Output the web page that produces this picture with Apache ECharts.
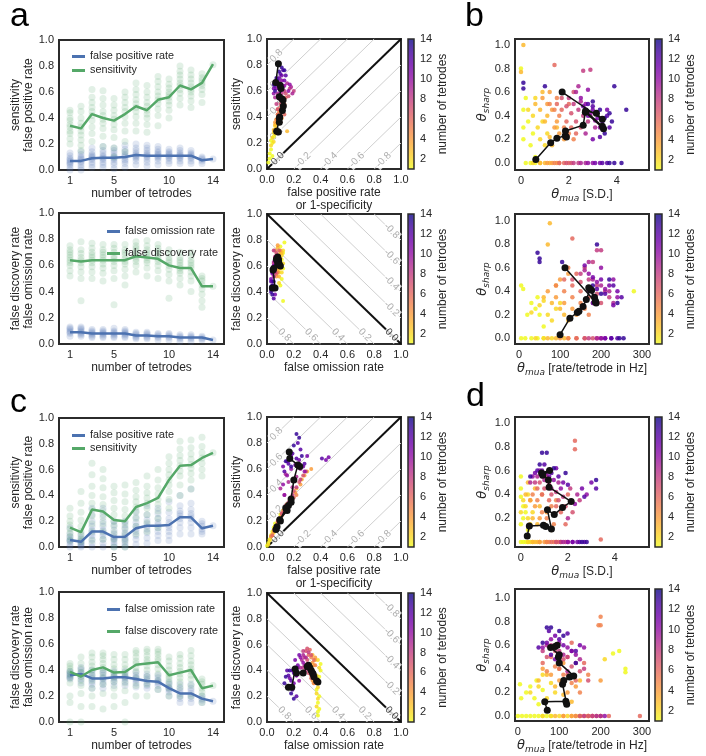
<!DOCTYPE html>
<html><head><meta charset="utf-8">
<script src="https://cdn.jsdelivr.net/npm/echarts@6/dist/echarts.min.js"></script>
<style>html,body{margin:0;padding:0;background:#fff}#c{width:706px;height:756px}</style>
</head><body><div id="c"></div>
<script>
// ---------------- DATA ----------------
const TETRODES = [1,2,3,4,5,6,7,8,9,10,11,12,13,14];
const N_TICKS = [1,5,10,14];
const UNIT_TICKS = [0,0.2,0.4,0.6,0.8,1.0];
const SD_TICKS = [0,2,4];
const HZ_TICKS = [0,100,200,300];
const CBAR_TICKS = [2,4,6,8,10,12,14];
const CONTOUR_LEVELS = [-0.8,-0.6,-0.4,-0.2,0.0,0.2,0.4,0.6,0.8];

// panel a, top-left
const A_SENS_MEAN = [0.34,0.32,0.43,0.40,0.38,0.43,0.49,0.46,0.54,0.56,0.65,0.62,0.67,0.815];
const A_FPR_MEAN  = [0.07,0.07,0.09,0.095,0.095,0.10,0.115,0.11,0.11,0.11,0.11,0.11,0.075,0.085];
const A_SENS_PTS = [
 [0.20,0.24,0.28,0.30,0.33,0.35,0.38,0.40,0.44,0.46],
 [0.15,0.19,0.23,0.27,0.30,0.33,0.36,0.40,0.45,0.49],
 [0.22,0.28,0.33,0.38,0.42,0.45,0.48,0.52,0.56,0.62],
 [0.18,0.26,0.32,0.36,0.39,0.42,0.45,0.50,0.55,0.61],
 [0.10,0.17,0.25,0.31,0.35,0.39,0.42,0.46,0.50,0.55],
 [0.14,0.22,0.30,0.36,0.41,0.45,0.48,0.52,0.56,0.60],
 [0.30,0.36,0.41,0.45,0.48,0.51,0.54,0.58,0.62,0.67],
 [0.29,0.35,0.40,0.43,0.46,0.49,0.52,0.56,0.60,0.65],
 [0.34,0.42,0.47,0.51,0.54,0.57,0.60,0.64,0.68,0.72],
 [0.40,0.46,0.50,0.53,0.56,0.58,0.60,0.63,0.66,0.70],
 [0.50,0.55,0.59,0.62,0.65,0.67,0.70,0.73,0.76,0.80],
 [0.48,0.53,0.57,0.60,0.62,0.64,0.67,0.70,0.73,0.77],
 [0.52,0.58,0.62,0.65,0.67,0.69,0.71,0.74],
 [0.81]];
const A_FPR_PTS = [
 [0.00,0.02,0.04,0.05,0.06,0.07,0.08,0.09,0.11,0.13],
 [0.00,0.02,0.04,0.06,0.07,0.08,0.09,0.10,0.12,0.14],
 [0.02,0.04,0.06,0.08,0.09,0.10,0.11,0.12,0.14,0.17],
 [0.02,0.04,0.06,0.08,0.09,0.10,0.11,0.13,0.15,0.18],
 [0.01,0.04,0.06,0.08,0.09,0.10,0.11,0.13,0.15,0.17],
 [0.02,0.05,0.07,0.08,0.10,0.11,0.12,0.14,0.16,0.19],
 [0.04,0.07,0.09,0.10,0.11,0.12,0.13,0.15,0.17,0.20],
 [0.03,0.06,0.08,0.10,0.11,0.12,0.13,0.15,0.17,0.19],
 [0.04,0.07,0.09,0.10,0.11,0.12,0.13,0.14,0.16,0.18],
 [0.05,0.07,0.09,0.10,0.11,0.12,0.13,0.14,0.16],
 [0.05,0.07,0.09,0.10,0.11,0.12,0.13,0.15,0.17],
 [0.05,0.07,0.09,0.10,0.11,0.12,0.13,0.15],
 [0.05,0.07,0.08,0.09,0.10],
 [0.085]];

// panel a, bottom-left
const A_FDR_MEAN = [0.64,0.63,0.64,0.64,0.64,0.64,0.67,0.66,0.65,0.60,0.58,0.58,0.44,0.44];
const A_FOR_MEAN = [0.09,0.09,0.08,0.08,0.08,0.08,0.065,0.065,0.06,0.06,0.05,0.05,0.05,0.03];
const A_FDR_PTS = [
 [0.52,0.56,0.60,0.62,0.64,0.66,0.68,0.70,0.72,0.75],
 [0.33,0.50,0.55,0.59,0.62,0.64,0.66,0.69,0.72,0.78],
 [0.50,0.55,0.59,0.62,0.64,0.66,0.68,0.70,0.73,0.77],
 [0.48,0.54,0.58,0.61,0.64,0.66,0.68,0.70,0.72,0.76],
 [0.30,0.50,0.56,0.60,0.63,0.65,0.67,0.70,0.73,0.76],
 [0.45,0.52,0.57,0.61,0.63,0.65,0.68,0.70,0.72,0.76],
 [0.55,0.60,0.63,0.65,0.67,0.69,0.71,0.73,0.75,0.78],
 [0.52,0.58,0.62,0.64,0.66,0.68,0.70,0.72,0.75,0.79],
 [0.50,0.56,0.60,0.63,0.65,0.67,0.69,0.71,0.73,0.76],
 [0.35,0.48,0.53,0.57,0.60,0.62,0.64,0.66,0.69,0.72],
 [0.45,0.50,0.54,0.56,0.58,0.60,0.62,0.64,0.66,0.70],
 [0.40,0.48,0.52,0.55,0.58,0.60,0.62,0.64,0.67,0.70],
 [0.28,0.33,0.38,0.42,0.45,0.48,0.50,0.52],
 [0.44]];
const A_FOR_PTS = [
 [0.06,0.08,0.09,0.10,0.11,0.12,0.13],
 [0.06,0.07,0.08,0.09,0.10,0.11,0.12,0.13],
 [0.05,0.06,0.07,0.08,0.09,0.10,0.11],
 [0.05,0.06,0.07,0.08,0.09,0.10,0.11],
 [0.05,0.06,0.07,0.08,0.09,0.10,0.12],
 [0.05,0.06,0.07,0.08,0.09,0.10,0.11],
 [0.04,0.05,0.06,0.07,0.08,0.09],
 [0.04,0.05,0.06,0.07,0.08,0.09],
 [0.03,0.05,0.06,0.07,0.08],
 [0.03,0.05,0.06,0.07,0.08],
 [0.02,0.04,0.05,0.06,0.07],
 [0.02,0.04,0.05,0.06,0.07],
 [0.03,0.04,0.05,0.06],
 [0.03]];

// panel c, top-left
const C_SENS_MEAN = [0.15,0.115,0.29,0.275,0.21,0.20,0.31,0.34,0.38,0.52,0.63,0.635,0.69,0.73];
const C_FPR_MEAN  = [0.055,0.04,0.12,0.12,0.077,0.08,0.145,0.165,0.165,0.17,0.23,0.23,0.145,0.165];
const C_SENS_PTS = [
 [0.05,0.08,0.11,0.14,0.17,0.20,0.24,0.30],
 [0.04,0.06,0.09,0.12,0.16,0.21,0.27,0.34,0.43],
 [0.05,0.12,0.18,0.24,0.29,0.34,0.40,0.47,0.56,0.65],
 [0.06,0.12,0.18,0.23,0.28,0.33,0.39,0.46,0.53,0.60],
 [0.00,0.06,0.11,0.16,0.20,0.25,0.30,0.36,0.42,0.47],
 [0.00,0.05,0.10,0.15,0.19,0.24,0.29,0.35,0.41,0.48],
 [0.10,0.16,0.22,0.27,0.31,0.35,0.39,0.44,0.50],
 [0.12,0.19,0.25,0.30,0.34,0.38,0.42,0.47,0.55],
 [0.15,0.22,0.28,0.33,0.37,0.41,0.46,0.52,0.60],
 [0.30,0.37,0.43,0.48,0.52,0.56,0.60,0.65,0.70],
 [0.40,0.48,0.55,0.59,0.63,0.67,0.71,0.76,0.82],
 [0.45,0.52,0.57,0.61,0.64,0.68,0.72,0.77,0.83],
 [0.55,0.60,0.65,0.69,0.73,0.78,0.85],
 [0.73]];
const C_FPR_PTS = [
 [0.00,0.02,0.04,0.05,0.06,0.08,0.10,0.15],
 [0.00,0.01,0.02,0.03,0.04,0.05,0.07,0.10],
 [0.00,0.03,0.06,0.09,0.11,0.13,0.16,0.20,0.25,0.30],
 [0.00,0.03,0.06,0.09,0.11,0.13,0.16,0.20,0.25,0.30],
 [0.00,0.02,0.04,0.06,0.07,0.08,0.10,0.13,0.17,0.20],
 [0.00,0.02,0.04,0.06,0.07,0.09,0.11,0.14,0.17,0.20],
 [0.02,0.06,0.09,0.12,0.14,0.16,0.19,0.23,0.28],
 [0.03,0.07,0.11,0.14,0.16,0.18,0.21,0.25,0.32],
 [0.05,0.09,0.12,0.15,0.17,0.19,0.22,0.26,0.30],
 [0.05,0.09,0.12,0.15,0.17,0.19,0.22,0.27,0.35],
 [0.10,0.15,0.19,0.22,0.24,0.26,0.28,0.32,0.40],
 [0.10,0.15,0.19,0.22,0.24,0.26,0.29,0.34,0.45],
 [0.10,0.12,0.14,0.16,0.18,0.20],
 [0.165]];

// panel c, bottom-left
const C_FDR_MEAN = [0.385,0.35,0.40,0.42,0.38,0.385,0.44,0.45,0.46,0.36,0.38,0.40,0.26,0.28];
const C_FOR_MEAN = [0.36,0.37,0.335,0.335,0.345,0.345,0.33,0.315,0.31,0.26,0.22,0.22,0.18,0.16];
const C_FDR_PTS = [
 [0.00,0.15,0.20,0.30,0.34,0.37,0.39,0.41,0.43,0.45],
 [0.00,0.12,0.22,0.28,0.32,0.35,0.38,0.41,0.45,0.50],
 [0.12,0.20,0.26,0.32,0.36,0.40,0.43,0.46,0.50,0.53],
 [0.10,0.22,0.29,0.34,0.38,0.42,0.45,0.48,0.51,0.53],
 [0.12,0.20,0.26,0.31,0.35,0.38,0.41,0.44,0.48,0.52],
 [0.00,0.15,0.24,0.30,0.35,0.38,0.41,0.44,0.48,0.52],
 [0.20,0.28,0.34,0.39,0.42,0.45,0.47,0.50,0.53,0.55],
 [0.20,0.29,0.35,0.40,0.43,0.46,0.48,0.51,0.54,0.56],
 [0.25,0.32,0.37,0.41,0.44,0.47,0.49,0.52,0.54,0.56],
 [0.20,0.26,0.30,0.33,0.35,0.37,0.40,0.43,0.47,0.50],
 [0.20,0.27,0.31,0.34,0.37,0.39,0.42,0.45,0.49,0.52],
 [0.20,0.28,0.33,0.36,0.39,0.41,0.44,0.47,0.51,0.55],
 [0.15,0.20,0.23,0.26,0.29,0.31,0.33],
 [0.28]];
const C_FOR_PTS = [
 [0.33,0.34,0.35,0.36,0.37,0.38,0.39],
 [0.30,0.33,0.35,0.37,0.38,0.40,0.42],
 [0.26,0.29,0.31,0.33,0.34,0.36,0.38,0.40],
 [0.26,0.29,0.31,0.33,0.34,0.36,0.38,0.40],
 [0.28,0.31,0.33,0.34,0.35,0.37,0.39],
 [0.28,0.31,0.33,0.34,0.35,0.37,0.39],
 [0.27,0.30,0.32,0.33,0.34,0.36,0.38],
 [0.26,0.28,0.30,0.32,0.33,0.35,0.37],
 [0.25,0.28,0.30,0.31,0.32,0.34,0.36],
 [0.20,0.23,0.25,0.26,0.27,0.29,0.31],
 [0.15,0.18,0.20,0.22,0.24,0.26,0.29],
 [0.15,0.18,0.20,0.22,0.24,0.26,0.29],
 [0.15,0.17,0.18,0.20],
 [0.16]];

// middle panels: per tetrode count, points [x, y]
const A_ROC_PTS = [
 [[0.01,0.05],[0.02,0.08],[0.02,0.12],[0.03,0.15],[0.04,0.20],[0.05,0.25],[0.03,0.22],[0.06,0.30],[0.04,0.10]],
 [[0.03,0.18],[0.04,0.24],[0.05,0.28],[0.06,0.33],[0.07,0.35],[0.05,0.21],[0.08,0.38],[0.06,0.27]],
 [[0.05,0.30],[0.06,0.34],[0.07,0.38],[0.08,0.42],[0.09,0.45],[0.10,0.40],[0.07,0.31],[0.11,0.48],[0.15,0.29]],
 [[0.06,0.36],[0.08,0.40],[0.10,0.44],[0.12,0.47],[0.09,0.35],[0.11,0.39]],
 [[0.07,0.38],[0.09,0.43],[0.11,0.48],[0.13,0.50],[0.10,0.36],[0.08,0.46]],
 [[0.08,0.42],[0.10,0.47],[0.12,0.52],[0.14,0.55],[0.11,0.44],[0.13,0.42]],
 [[0.08,0.46],[0.10,0.50],[0.12,0.54],[0.14,0.58],[0.16,0.56],[0.11,0.52]],
 [[0.07,0.50],[0.09,0.54],[0.11,0.58],[0.13,0.60],[0.17,0.62],[0.20,0.60]],
 [[0.06,0.55],[0.08,0.58],[0.10,0.62],[0.12,0.64],[0.15,0.66],[0.18,0.63],[0.19,0.58]],
 [[0.05,0.58],[0.07,0.62],[0.09,0.66],[0.11,0.68],[0.13,0.64],[0.16,0.60],[0.17,0.65]],
 [[0.05,0.62],[0.07,0.66],[0.09,0.70],[0.11,0.72],[0.13,0.68],[0.10,0.60]],
 [[0.06,0.64],[0.08,0.68],[0.10,0.73],[0.12,0.76],[0.14,0.72],[0.09,0.62]],
 [[0.05,0.65],[0.07,0.70],[0.09,0.75],[0.11,0.78],[0.13,0.76],[0.06,0.60]],
 [[0.08,0.81]]];
const A_ROC_MEAN = [[0.072,0.29],[0.085,0.285],[0.095,0.40],[0.092,0.36],[0.092,0.39],[0.115,0.45],[0.122,0.485],[0.12,0.53],[0.11,0.54],[0.092,0.556],[0.105,0.62],[0.098,0.645],[0.065,0.665],[0.085,0.81]];

const A_PR_PTS = [
 [[0.09,0.55],[0.10,0.60],[0.11,0.65],[0.12,0.70],[0.10,0.75],[0.09,0.68],[0.12,0.58],[0.11,0.50],[0.10,0.45],[0.12,0.33],[0.13,0.78]],
 [[0.09,0.58],[0.10,0.63],[0.11,0.68],[0.12,0.72],[0.08,0.66],[0.11,0.55],[0.10,0.70],[0.09,0.47],[0.12,0.62]],
 [[0.08,0.56],[0.09,0.62],[0.10,0.66],[0.11,0.70],[0.08,0.74],[0.09,0.52],[0.10,0.58]],
 [[0.07,0.58],[0.08,0.62],[0.09,0.67],[0.10,0.72],[0.08,0.76],[0.07,0.52]],
 [[0.07,0.60],[0.08,0.64],[0.09,0.68],[0.06,0.72],[0.08,0.55]],
 [[0.06,0.58],[0.07,0.63],[0.08,0.68],[0.09,0.72],[0.07,0.54]],
 [[0.05,0.62],[0.06,0.67],[0.07,0.70],[0.08,0.60],[0.06,0.56]],
 [[0.05,0.60],[0.06,0.65],[0.07,0.68],[0.05,0.72],[0.06,0.55]],
 [[0.04,0.58],[0.05,0.63],[0.06,0.67],[0.05,0.52]],
 [[0.04,0.54],[0.05,0.60],[0.06,0.64],[0.04,0.48],[0.05,0.42]],
 [[0.03,0.50],[0.04,0.56],[0.05,0.60],[0.04,0.45],[0.06,0.38]],
 [[0.03,0.48],[0.04,0.55],[0.05,0.58],[0.03,0.42],[0.05,0.35]],
 [[0.03,0.40],[0.04,0.45],[0.05,0.48],[0.04,0.38]],
 [[0.03,0.44]]];
const A_PR_MEAN = [[0.09,0.62],[0.10,0.60],[0.085,0.645],[0.08,0.64],[0.085,0.65],[0.08,0.63],[0.08,0.67],[0.075,0.66],[0.07,0.65],[0.08,0.61],[0.045,0.57],[0.05,0.58],[0.06,0.43],[0.04,0.43]];

const C_ROC_PTS = [
 [[0.00,0.01],[0.01,0.03],[0.02,0.06],[0.03,0.09],[0.04,0.12],[0.05,0.15],[0.06,0.18],[0.08,0.20],[0.10,0.25]],
 [[0.01,0.02],[0.02,0.05],[0.03,0.08],[0.05,0.11],[0.06,0.14],[0.08,0.17],[0.10,0.22],[0.12,0.26]],
 [[0.04,0.10],[0.06,0.16],[0.09,0.22],[0.12,0.28],[0.15,0.33],[0.18,0.38],[0.22,0.45],[0.26,0.52],[0.30,0.58]],
 [[0.05,0.12],[0.08,0.18],[0.11,0.25],[0.14,0.30],[0.17,0.36],[0.21,0.42],[0.25,0.48],[0.28,0.55],[0.33,0.60]],
 [[0.03,0.08],[0.05,0.13],[0.08,0.19],[0.11,0.24],[0.14,0.30],[0.18,0.35],[0.22,0.40]],
 [[0.04,0.09],[0.06,0.14],[0.09,0.20],[0.12,0.26],[0.16,0.32],[0.20,0.38]],
 [[0.08,0.20],[0.11,0.26],[0.14,0.32],[0.17,0.37],[0.20,0.43],[0.24,0.50],[0.27,0.55]],
 [[0.09,0.22],[0.13,0.28],[0.16,0.34],[0.19,0.40],[0.22,0.46],[0.25,0.52],[0.29,0.58]],
 [[0.10,0.45],[0.13,0.40],[0.16,0.50],[0.19,0.46],[0.22,0.54],[0.25,0.60],[0.14,0.56]],
 [[0.12,0.48],[0.15,0.55],[0.18,0.60],[0.21,0.52],[0.24,0.64],[0.28,0.58],[0.13,0.40]],
 [[0.12,0.62],[0.15,0.66],[0.18,0.70],[0.21,0.63],[0.24,0.67],[0.27,0.62],[0.30,0.70],[0.44,0.67],[0.46,0.69]],
 [[0.13,0.58],[0.16,0.64],[0.19,0.72],[0.22,0.68],[0.25,0.75],[0.28,0.64],[0.23,0.80],[0.41,0.68]],
 [[0.14,0.66],[0.17,0.72],[0.20,0.78],[0.24,0.84],[0.22,0.87],[0.18,0.62],[0.26,0.70]],
 [[0.166,0.73]]];
const C_ROC_MEAN = [[0.075,0.155],[0.067,0.135],[0.14,0.30],[0.15,0.28],[0.095,0.21],[0.10,0.20],[0.16,0.32],[0.18,0.345],[0.18,0.37],[0.20,0.515],[0.23,0.63],[0.245,0.62],[0.17,0.68],[0.166,0.73]];

const C_PR_PTS = [
 [[0.38,0.05],[0.39,0.10],[0.38,0.15],[0.39,0.20],[0.37,0.25],[0.38,0.30],[0.39,0.35],[0.40,0.40],[0.40,0.45],[0.38,0.08]],
 [[0.37,0.12],[0.38,0.18],[0.37,0.22],[0.38,0.27],[0.36,0.32],[0.37,0.36],[0.39,0.42],[0.38,0.48]],
 [[0.35,0.30],[0.36,0.35],[0.34,0.40],[0.35,0.44],[0.36,0.48],[0.34,0.52]],
 [[0.34,0.32],[0.35,0.38],[0.33,0.42],[0.34,0.46],[0.36,0.50]],
 [[0.35,0.30],[0.33,0.36],[0.34,0.40],[0.36,0.44],[0.33,0.50]],
 [[0.33,0.34],[0.34,0.40],[0.32,0.44],[0.35,0.48],[0.31,0.52],[0.32,0.56]],
 [[0.31,0.38],[0.32,0.44],[0.30,0.48],[0.33,0.52],[0.29,0.55],[0.30,0.57]],
 [[0.29,0.40],[0.30,0.45],[0.28,0.50],[0.31,0.54],[0.27,0.42],[0.27,0.55]],
 [[0.27,0.38],[0.28,0.44],[0.26,0.48],[0.29,0.50],[0.25,0.42],[0.27,0.52]],
 [[0.24,0.32],[0.26,0.38],[0.23,0.42],[0.27,0.46],[0.22,0.36],[0.25,0.50]],
 [[0.20,0.30],[0.22,0.36],[0.19,0.40],[0.23,0.44],[0.17,0.34],[0.21,0.48],[0.24,0.52]],
 [[0.18,0.32],[0.20,0.38],[0.16,0.36],[0.21,0.42],[0.15,0.40],[0.19,0.25],[0.22,0.20]],
 [[0.14,0.35],[0.16,0.28],[0.18,0.22],[0.13,0.30],[0.20,0.18],[0.17,0.40]],
 [[0.16,0.27]]];
const C_PR_MEAN = [[0.38,0.31],[0.37,0.32],[0.35,0.35],[0.345,0.37],[0.34,0.38],[0.33,0.40],[0.32,0.42],[0.31,0.44],[0.30,0.43],[0.27,0.38],[0.22,0.38],[0.21,0.41],[0.185,0.27],[0.16,0.27]];

// right panels (b, d): per tetrode count, points [theta_mua, theta_sharp]
const B_SD_PTS = [
 [[0.2,0],[0.4,0],[0.6,0],[0.1,0.45],[0.1,0.30],[0.1,0.20],[0.3,0.35],[0.4,0.15],[0.5,0.25],[0.6,0.05],[0.2,0.55],[0.0,0.8]],
 [[0.5,0],[0.8,0],[0.3,0.45],[0.5,0.40],[0.7,0.30],[0.8,0.20],[1.0,0.15],[0.9,0.35],[0.6,0.55],[1.1,0.25]],
 [[0.8,0],[1.0,0],[1.2,0],[0.6,0.50],[0.8,0.45],[1.0,0.35],[1.2,0.22],[1.3,0.15],[1.1,0.40],[0.9,0.60],[1.5,0.30],[0.1,1.0],[0.0,0.77]],
 [[1.1,0],[1.3,0],[1.5,0],[0.9,0.55],[1.1,0.50],[1.3,0.45],[1.5,0.35],[1.6,0.25],[1.8,0.20],[1.2,0.60],[1.4,0.30]],
 [[1.4,0],[1.6,0],[1.2,0.50],[1.4,0.45],[1.6,0.40],[1.8,0.30],[2.0,0.25],[2.2,0.20],[1.5,0.55]],
 [[1.6,0],[1.8,0],[2.0,0],[1.5,0.50],[1.7,0.45],[1.9,0.35],[2.1,0.30],[2.3,0.25],[2.0,0.50],[1.4,0.83]],
 [[1.9,0],[2.1,0],[1.7,0.55],[1.9,0.48],[2.1,0.42],[2.3,0.35],[2.5,0.30],[2.2,0.60]],
 [[2.2,0],[2.4,0],[2.0,0.55],[2.2,0.50],[2.4,0.45],[2.6,0.40],[2.8,0.35],[2.6,0.78],[2.9,0.79]],
 [[2.5,0],[2.7,0],[2.3,0.60],[2.5,0.52],[2.7,0.45],[2.9,0.40],[3.1,0.30],[2.4,0.65],[2.7,0.25]],
 [[2.8,0],[3.0,0],[2.5,0.55],[2.7,0.50],[2.9,0.42],[3.1,0.36],[3.3,0.30],[2.8,0.62]],
 [[3.1,0],[3.3,0],[2.6,0.48],[2.8,0.40],[3.0,0.45],[3.2,0.38],[3.4,0.32],[3.0,0.20],[3.6,0.45]],
 [[3.4,0],[3.6,0],[2.8,0.50],[3.0,0.48],[3.2,0.42],[3.4,0.35],[3.6,0.40],[3.3,0.22],[3.7,0.30]],
 [[3.7,0],[3.9,0],[4.2,0],[3.0,0.52],[3.3,0.45],[3.5,0.38],[3.7,0.42],[3.8,0.35],[3.9,0.65],[4.4,0.45],[3.5,0.25],[0.1,0.68],[0.1,0.63],[1.0,0.65]],
 []];
const B_SD_MEAN = [[0.62,0.03],[1.24,0.17],[1.5,0.21],[1.85,0.23],[1.9,0.22],[1.86,0.27],[2.6,0.32],[2.69,0.43],[3.45,0.29],[3.4,0.31],[2.7,0.44],[3.15,0.42],[3.4,0.37],[1.72,0.60]];

const B_HZ_PTS = [
 [[5,0],[15,0],[30,0],[45,0],[60,0],[5,0.45],[10,0.42],[20,0.20],[30,0.30],[40,0.25],[50,0.20],[60,0.10],[45,0.35],[280,0.40]],
 [[40,0],[60,0],[80,0],[30,0.22],[50,0.28],[70,0.20],[80,0.15],[90,0.25],[60,0.32],[100,0.30]],
 [[70,0],[90,0],[110,0],[60,0.35],[80,0.30],[100,0.25],[110,0.20],[120,0.15],[90,0.45],[75,0.98],[70,0.80]],
 [[100,0],[120,0],[70,0.40],[90,0.35],[110,0.30],[130,0.25],[140,0.20],[100,0.50],[120,0.55]],
 [[120,0],[140,0],[90,0.45],[110,0.40],[130,0.35],[150,0.30],[160,0.25],[120,0.60],[170,0.20]],
 [[140,0],[160,0],[110,0.50],[130,0.45],[150,0.40],[170,0.35],[180,0.30],[140,0.55],[130,0.85]],
 [[160,0],[180,0],[130,0.50],[150,0.48],[170,0.42],[190,0.38],[200,0.30],[160,0.60]],
 [[170,0],[190,0],[150,0.55],[170,0.50],[190,0.45],[210,0.40],[220,0.35],[180,0.65],[190,0.75],[200,0.75]],
 [[190,0],[200,0],[160,0.58],[180,0.50],[200,0.45],[220,0.40],[230,0.30],[170,0.65]],
 [[200,0],[210,0],[170,0.55],[190,0.48],[210,0.42],[230,0.50],[240,0.35],[200,0.60]],
 [[210,0],[225,0],[180,0.52],[200,0.50],[220,0.45],[240,0.40],[160,0.62],[230,0.28]],
 [[225,0],[240,0],[170,0.40],[190,0.42],[210,0.38],[230,0.45],[250,0.35],[180,0.30]],
 [[245,0],[255,0],[180,0.45],[200,0.38],[220,0.50],[240,0.30],[45,0.73],[50,0.68],[50,0.65],[190,0.80],[105,0.65]],
 []];
const B_HZ_MEAN = [[100,0.03],[124,0.17],[142,0.22],[146,0.23],[156,0.27],[164,0.33],[173,0.42],[188,0.30],[186,0.32],[177,0.41],[170,0.43],[184,0.35],[186,0.31],[112,0.60]];

const D_SD_PTS = [
 [[0.0,0],[0.1,0],[0.2,0],[0.3,0],[0.0,0.55],[0.0,0.45],[0.1,0.30],[0.1,0.20],[0.0,0.15],[0.2,0.25],[0.3,0.10],[0.0,0.38]],
 [[0.3,0],[0.4,0],[0.5,0],[0.1,0.35],[0.2,0.30],[0.3,0.20],[0.4,0.15],[0.5,0.25],[0.3,0.40],[0.0,0.25]],
 [[0.5,0],[0.6,0],[0.7,0],[0.8,0],[0.2,0.40],[0.4,0.35],[0.5,0.20],[0.7,0.15],[0.8,0.30],[0.6,0.45],[0.3,0.50]],
 [[0.8,0],[1.0,0],[1.1,0],[0.4,0.35],[0.6,0.30],[0.8,0.20],[1.0,0.15],[1.1,0.25],[0.9,0.40],[1.3,0.10]],
 [[1.1,0],[1.2,0],[1.4,0],[0.5,0.40],[0.7,0.35],[0.9,0.25],[1.1,0.20],[1.3,0.30],[1.5,0.35],[1.4,0.15]],
 [[1.3,0],[1.5,0],[1.6,0],[3.4,0.02],[0.7,0.45],[0.9,0.40],[1.2,0.35],[1.5,0.30],[1.7,0.25],[2.0,0.40],[2.3,0.85],[2.3,0.78],[1.9,0.15]],
 [[1.5,0],[1.7,0],[0.8,0.50],[1.0,0.45],[1.3,0.40],[1.6,0.35],[1.9,0.30],[2.2,0.25],[1.1,0.55]],
 [[1.7,0],[1.9,0],[0.6,0.50],[0.9,0.55],[1.2,0.48],[1.5,0.42],[1.8,0.38],[2.1,0.45],[2.5,0.35]],
 [[1.8,0],[2.0,0],[0.4,0.50],[0.7,0.55],[1.0,0.52],[1.3,0.45],[1.6,0.50],[2.0,0.20],[2.4,0.40]],
 [[2.0,0],[2.2,0],[0.5,0.55],[0.8,0.60],[1.1,0.58],[1.4,0.52],[1.7,0.45],[2.3,0.32],[2.8,0.40]],
 [[2.2,0],[2.4,0],[0.6,0.58],[0.9,0.60],[1.2,0.55],[1.5,0.62],[1.8,0.50],[2.6,0.45],[3.0,0.50]],
 [[2.5,0],[2.7,0],[0.7,0.60],[1.0,0.65],[1.3,0.58],[1.6,0.55],[2.0,0.48],[2.7,0.38],[3.2,0.45]],
 [[2.6,0],[2.8,0],[0.4,0.55],[0.8,0.65],[1.1,0.75],[1.4,0.62],[1.9,0.58],[3.2,0.52],[0.9,0.75]],
 []];
const D_SD_MEAN = [[0.27,0.05],[0.36,0.135],[0.96,0.14],[1.06,0.13],[1.3,0.11],[1.13,0.27],[1.42,0.23],[1.77,0.29],[2.14,0.34],[1.2,0.46],[1.17,0.52],[0.88,0.58],[1.22,0.60],[0.93,0.56]];

const D_HZ_PTS = [
 [[0,0],[10,0],[20,0],[30,0],[40,0],[50,0],[60,0],[70,0],[80,0],[5,0.27],[8,0.15],[20,0.20],[30,0.25],[40,0.15],[50,0.10],[60,0.22],[45,0.30],[230,0.53],[245,0.55],[260,0.40],[260,0.37]],
 [[60,0],[80,0],[100,0],[120,0],[140,0],[30,0.20],[50,0.25],[70,0.15],[80,0.28],[60,0.35],[90,0.20],[210,0.48]],
 [[90,0],[110,0],[130,0],[150,0],[170,0],[50,0.30],[70,0.35],[90,0.25],[110,0.18],[130,0.12],[100,0.40],[150,0.30]],
 [[110,0],[130,0],[150,0],[170,0],[190,0],[60,0.40],[80,0.35],[100,0.30],[120,0.20],[140,0.25],[110,0.45],[200,0.30]],
 [[140,0],[160,0],[180,0],[200,0],[70,0.38],[90,0.42],[110,0.35],[130,0.28],[150,0.20],[120,0.50],[170,0.35],[200,0.84],[195,0.77],[200,0.77]],
 [[180,0],[200,0],[220,0],[295,0],[60,0.45],[80,0.50],[100,0.40],[120,0.35],[140,0.30],[160,0.45],[130,0.62]],
 [[150,0],[170,0],[70,0.50],[90,0.55],[110,0.48],[130,0.42],[150,0.38],[170,0.30]],
 [[160,0],[180,0],[60,0.55],[80,0.60],[100,0.55],[120,0.50],[140,0.45],[160,0.40]],
 [[190,0],[200,0],[70,0.60],[90,0.58],[110,0.52],[130,0.55],[150,0.48],[120,0.38]],
 [[210,0],[60,0.58],[80,0.65],[100,0.62],[120,0.58],[140,0.52],[160,0.58]],
 [[70,0.62],[90,0.68],[110,0.60],[130,0.55],[150,0.60],[90,0.48]],
 [[50,0.58],[80,0.52],[100,0.65],[120,0.70],[140,0.55],[75,0.72]],
 [[60,0.62],[80,0.75],[100,0.72],[110,0.68],[70,0.75],[140,0.45]],
 []];
const D_HZ_MEAN = [[71,0.05],[65,0.12],[116,0.125],[118,0.10],[108,0.27],[111,0.30],[125,0.33],[135,0.34],[100,0.45],[98,0.50],[100,0.52],[79,0.58],[95,0.60],[90,0.59]];

// ---------------- STYLE ----------------
const TXT = '#262626';
const FONT = '"Liberation Sans", Arial, sans-serif';
const BLUE = '#4c72b0', GREEN = '#55a868';
const PLASMA = ['#0d0887','#41049d','#6a00a8','#8f0da4','#b12a90','#cc4778','#e16462','#f2844b','#fca636','#fcce25','#f0f921'];
const CMAP = PLASMA.slice().reverse(); // 1 -> yellow, 14 -> dark purple

const grids = [], xAxes = [], yAxes = [], series = [], legends = [], colorSeries = [];

function axis(o){
  const a = {type:'value', min:o.min, max:o.max, axisLine:{show:false}, axisTick:{show:false}, splitLine:{show:false},
    axisLabel:{color:TXT, fontSize:11, margin:o.margin||5, fontFamily:FONT},
    nameLocation:'middle', name:o.name||'', nameGap:o.gap||15,
    nameTextStyle:{color:TXT, fontSize:12, fontFamily:FONT, lineHeight:13}};
  if (o.interval) a.interval = o.interval;
  if (o.ticks) a.axisLabel.customValues = o.ticks;
  if (o.fmt) a.axisLabel.formatter = o.fmt;
  if (o.rotate) a.nameRotate = o.rotate;
  if (o.position) a.position = o.position;
  if (o.rich) a.nameTextStyle.rich = o.rich;
  if (o.show === false) a.show = false;
  return a;
}
function addGrid(g, xa, ya, frame){
  grids.push(Object.assign({show: frame !== false, borderColor:'#2b2b2b', borderWidth: frame === false ? 0 : 2, backgroundColor:'transparent'}, g));
  const i = grids.length - 1;
  xAxes.push(Object.assign(xa, {gridIndex:i}));
  yAxes.push(Object.assign(ya, {gridIndex:i}));
  return i;
}
const f1 = v => v.toFixed(1);
const RICH = {
  i:{fontFamily:'DejaVu Sans', fontStyle:'italic', fontSize:13, color:TXT, lineHeight:16},
  s:{fontFamily:'DejaVu Sans', fontStyle:'italic', fontSize:9, color:TXT, lineHeight:10, verticalAlign:'bottom'},
  n:{fontFamily:FONT, fontSize:12, color:TXT, lineHeight:16}
};

function strip(groups){ const out=[]; groups.forEach((g,i)=>g.forEach(v=>out.push([TETRODES[i], v]))); return out; }
function meanLine(vals){ return vals.map((v,i)=>[TETRODES[i], v]); }
function cloud(groups){ const out=[]; groups.forEach((g,i)=>g.forEach(p=>out.push([p[0], p[1], TETRODES[i]]))); return out; }

// ---- left strip panels ----
function stripPanel(top, h, yName, lines, legendPos){
  const gi = addGrid({left:59, top:top, width:165, height:h},
    axis({min:0, max:15, ticks:N_TICKS, name:'number of tetrodes', gap:14}),
    axis({min:0, max:1, interval:0.2, fmt:f1, name:yName, gap:20, rotate:90}));
  lines.forEach(L => {
    series.push({type:'scatter', name:L.name+' pts', xAxisIndex:gi, yAxisIndex:gi, data:strip(L.pts), symbolSize:7,
      itemStyle:{color:L.color, opacity:0.17}, silent:true, z:2});
  });
  lines.forEach(L => {
    series.push({type:'line', name:L.name, xAxisIndex:gi, yAxisIndex:gi, data:meanLine(L.mean), showSymbol:false, symbol:'none',
      lineStyle:{color:L.color, width:2.5}, itemStyle:{color:L.color}, z:3});
  });
  legends.push({left:legendPos[0], top:legendPos[1], orient:'vertical', icon:'rect', itemWidth:13, itemHeight:3,
    itemGap:legendPos[2], data:lines.map(L=>L.name), textStyle:{color:TXT, fontSize:10.8, fontFamily:FONT}, selectedMode:false});
}

// ---- colorbar ----
function colorbar(left, top, h, w){
  const gi = addGrid({left:left, top:top, width:w, height:h},
    axis({min:0, max:1, show:false}),
    axis({min:1, max:14, ticks:CBAR_TICKS, position:'right', name:'number of tetrodes', gap:22, rotate:90, margin:6}), false);
  const stops = CMAP.map((c,i)=>({offset:1 - i/(CMAP.length-1), color:c}));
  series.push({type:'custom', xAxisIndex:gi, yAxisIndex:gi, data:[[0]], silent:true,
    renderItem:(params, api) => {
      const p0 = api.coord([0,14]), p1 = api.coord([1,1]);
      return {type:'group', children:[
        {type:'rect', shape:{x:p0[0], y:p0[1], width:p1[0]-p0[0], height:p1[1]-p0[1]},
          style:{fill:new echarts.graphic.LinearGradient(0,0,0,1, stops), opacity:0.8}},
        {type:'rect', shape:{x:p0[0], y:p0[1], width:p1[0]-p0[0], height:p1[1]-p0[1]},
          style:{fill:'none', stroke:'#2b2b2b', lineWidth:1.5}}]};
    }});
}

// ---- middle contour panels ----
function rocLine(c){ return c >= 0 ? [[0,c],[1-c,1]] : [[-c,0],[1,1+c]]; }
function rocLabel(c){ return c > 0 ? [0.07, 0.07+c] : (c < 0 ? [0.07-c, 0.07] : [0.08,0.08]); }
function prLine(c){ const k = 1-c; return k <= 1 ? [[0,k],[k,0]] : [[k-1,1],[1,k-1]]; }
function prLabel(c){ return c > 0 ? [1-c-0.07, 0.07] : (c < 0 ? [0.93, 0.07-c] : [0.93,0.07]); }

function contourPanel(top, h, kind, pts, mean, xName, yName){
  const gi = addGrid({left:267, top:top, width:134, height:h},
    axis({min:0, max:1, interval:0.2, fmt:f1, name:xName, gap:14}),
    axis({min:0, max:1, interval:0.2, fmt:f1, name:yName, gap:20, rotate:90}));
  const lineFn = kind === 'roc' ? rocLine : prLine;
  const labFn = kind === 'roc' ? rocLabel : prLabel;
  CONTOUR_LEVELS.forEach(c => {
    series.push({type:'line', xAxisIndex:gi, yAxisIndex:gi, data:lineFn(c), symbol:'none', silent:true,
      lineStyle:{color: c === 0 ? '#111' : '#cfcfcf', width: c === 0 ? 2 : 1}, z:1});
  });
  series.push({type:'scatter', xAxisIndex:gi, yAxisIndex:gi, silent:true, symbolSize:1, z:2,
    itemStyle:{color:'rgba(0,0,0,0)'},
    data: CONTOUR_LEVELS.map(c => ({name:c.toFixed(1), value:labFn(c),
      label:{color: c === 0 ? '#111' : '#9a9a9a'}})),
    label:{show:true, position:'inside', formatter:'{b}', rotate: kind === 'roc' ? 45 : -45, fontSize:10,
      fontFamily:FONT, backgroundColor:'#fff', padding:[0,1]}});
  colorSeries.push(series.length);
  series.push({type:'scatter', xAxisIndex:gi, yAxisIndex:gi, data:cloud(pts), symbolSize:4, silent:true,
    itemStyle:{opacity:0.85}, z:3});
  series.push({type:'line', xAxisIndex:gi, yAxisIndex:gi, data:mean, symbol:'circle', symbolSize:7, silent:true,
    lineStyle:{color:'#111', width:1.5}, itemStyle:{color:'#111'}, z:4});
  colorbar(408, top, h, 6);
}

// ---- right threshold panels ----
function thetaPanel(top, h, xa, ya, pts, mean, xName){
  const gi = addGrid({left:515, top:top, width:134, height:h},
    axis(Object.assign({name:xName, gap:13, rich:RICH}, xa)),
    axis(Object.assign({ticks:UNIT_TICKS, fmt:f1, name:'{i|θ}{s|sharp}', gap:20, rotate:90, rich:RICH}, ya)));
  colorSeries.push(series.length);
  series.push({type:'scatter', xAxisIndex:gi, yAxisIndex:gi, data:cloud(pts), symbolSize:4.5, silent:true,
    itemStyle:{opacity:0.85}, z:3});
  series.push({type:'line', xAxisIndex:gi, yAxisIndex:gi, data:mean, symbol:'circle', symbolSize:7, silent:true,
    lineStyle:{color:'#111', width:1.5}, itemStyle:{color:'#111'}, z:4});
  colorbar(655, top, h, 7);
}

// ---------------- BUILD ----------------
stripPanel(40, 130, 'sensitivity\nfalse positive rate',
  [{name:'false positive rate', color:BLUE, pts:A_FPR_PTS, mean:A_FPR_MEAN},
   {name:'sensitivity', color:GREEN, pts:A_SENS_PTS, mean:A_SENS_MEAN}], [67, 46, 3]);
stripPanel(213, 131, 'false discovery rate\nfalse omission rate',
  [{name:'false omission rate', color:BLUE, pts:A_FOR_PTS, mean:A_FOR_MEAN},
   {name:'false discovery rate', color:GREEN, pts:A_FDR_PTS, mean:A_FDR_MEAN}], [102, 221, 11]);
stripPanel(418, 129, 'sensitivity\nfalse positive rate',
  [{name:'false positive rate', color:BLUE, pts:C_FPR_PTS, mean:C_FPR_MEAN},
   {name:'sensitivity', color:GREEN, pts:C_SENS_PTS, mean:C_SENS_MEAN}], [67, 425, 2]);
stripPanel(592, 130, 'false discovery rate\nfalse omission rate',
  [{name:'false omission rate', color:BLUE, pts:C_FOR_PTS, mean:C_FOR_MEAN},
   {name:'false discovery rate', color:GREEN, pts:C_FDR_PTS, mean:C_FDR_MEAN}], [102, 599, 11]);

contourPanel(39, 130, 'roc', A_ROC_PTS, A_ROC_MEAN, 'false positive rate\nor 1-specificity', 'sensitivity');
contourPanel(214, 130, 'pr', A_PR_PTS, A_PR_MEAN, 'false omission rate', 'false discovery rate');
contourPanel(417, 130, 'roc', C_ROC_PTS, C_ROC_MEAN, 'false positive rate\nor 1-specificity', 'sensitivity');
contourPanel(593, 129, 'pr', C_PR_PTS, C_PR_MEAN, 'false omission rate', 'false discovery rate');

thetaPanel(39, 131, {min:-0.25, max:5.35, ticks:SD_TICKS}, {min:-0.06, max:1.05}, B_SD_PTS, B_SD_MEAN, '{i|θ}{s|mua}{n| [S.D.]}');
thetaPanel(214, 130, {min:-10, max:317, ticks:HZ_TICKS}, {min:-0.05, max:1.06}, B_HZ_PTS, B_HZ_MEAN, '{i|θ}{s|mua}{n| [rate/tetrode in Hz]}');
thetaPanel(417, 130, {min:-0.25, max:5.45, ticks:SD_TICKS}, {min:-0.042, max:1.05}, D_SD_PTS, D_SD_MEAN, '{i|θ}{s|mua}{n| [S.D.]}');
thetaPanel(589, 132, {min:-7, max:317, ticks:HZ_TICKS}, {min:-0.042, max:1.076}, D_HZ_PTS, D_HZ_MEAN, '{i|θ}{s|mua}{n| [rate/tetrode in Hz]}');

const PANEL_LETTERS = [['a',10,0],['b',465,0],['c',10,386],['d',466,380]];

const chart = echarts.init(document.getElementById('c'), null, {renderer:'canvas'});
chart.setOption({
  animation:false,
  backgroundColor:'#fff',
  textStyle:{fontFamily:FONT},
  grid:grids, xAxis:xAxes, yAxis:yAxes, legend:legends,
  visualMap:[{type:'continuous', show:false, min:1, max:14, dimension:2, seriesIndex:colorSeries, inRange:{color:CMAP}}],
  graphic: PANEL_LETTERS.map(p => ({type:'text', left:p[1], top:p[2], silent:true,
    style:{text:p[0], fontSize:34, fontFamily:FONT, fill:'#000'}})),
  series:series
});
</script></body></html>
